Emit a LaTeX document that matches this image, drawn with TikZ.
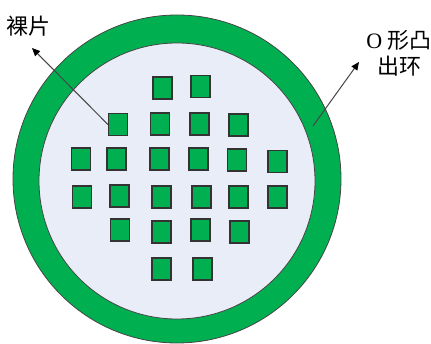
\documentclass[tikz,border=0pt]{standalone}
\usepackage{fontspec}
\setmainfont{Liberation Serif}
\newfontfamily\cjk{Noto Sans CJK SC}
\usetikzlibrary{arrows.meta}
\definecolor{cring}{HTML}{00B050}
\definecolor{cwafer}{HTML}{E8EDF7}
\definecolor{cline}{HTML}{454545}
\tikzset{
  every picture/.style={x=1pt, y=-1pt, line width=0.8pt},
  die/.style={draw=black!80, fill=cring, line width=1.2pt, minimum width=19pt, minimum height=22pt, inner sep=0pt},
  pointer/.style={-{Triangle[length=8pt, width=7pt, color=black]}, draw=cline, line width=1pt},
  callout/.style={font=\fontsize{22}{26}\selectfont, align=center, inner sep=0pt},
}
\begin{document}
\begin{tikzpicture}
  \useasboundingbox (0,0) rectangle (431,344);
  % ring and wafer
  \draw[draw=cline, fill=cring] (177,179) circle[radius=164pt];
  \draw[draw=cline, fill=cwafer] (177,181) circle[radius=138pt];
  % bare dies
  \foreach \x/\y/\n in {162.5/88/s11, 200.5/86.5/s12,
      118/124.5/s21, 160/124/s22, 199.5/124/s23, 238.5/125/s24,
      81/159/s31, 116.5/159/s32, 159.5/159/s33, 198.5/159/s34, 237/160/s35, 277.5/161.5/s36,
      82/197/s41, 119.5/196/s42, 161.5/197/s43, 201.5/197/s44, 238.5/197/s45, 277.5/197/s46,
      120/230/s51, 161.5/232/s52, 200.5/230/s53, 239.5/232/s54,
      161.5/269/s61, 202.5/269/s62}
    \node[die] (\n) at (\x,\y) {};
  % labels
  \node[callout] (labDie) at (28,26) {\cjk 裸片};
  \node[callout] (labRing) at (399,53) {O {\cjk 形凸}\\{\cjk 出环}};
  \coordinate (dieTip) at (32,48);
  \coordinate (ringPt) at (313,126);
  \coordinate (ringTip) at (359,62);
  \draw[pointer] (s21.west) -- (dieTip);
  \draw[pointer] (ringPt) -- (ringTip);
\end{tikzpicture}
\end{document}
